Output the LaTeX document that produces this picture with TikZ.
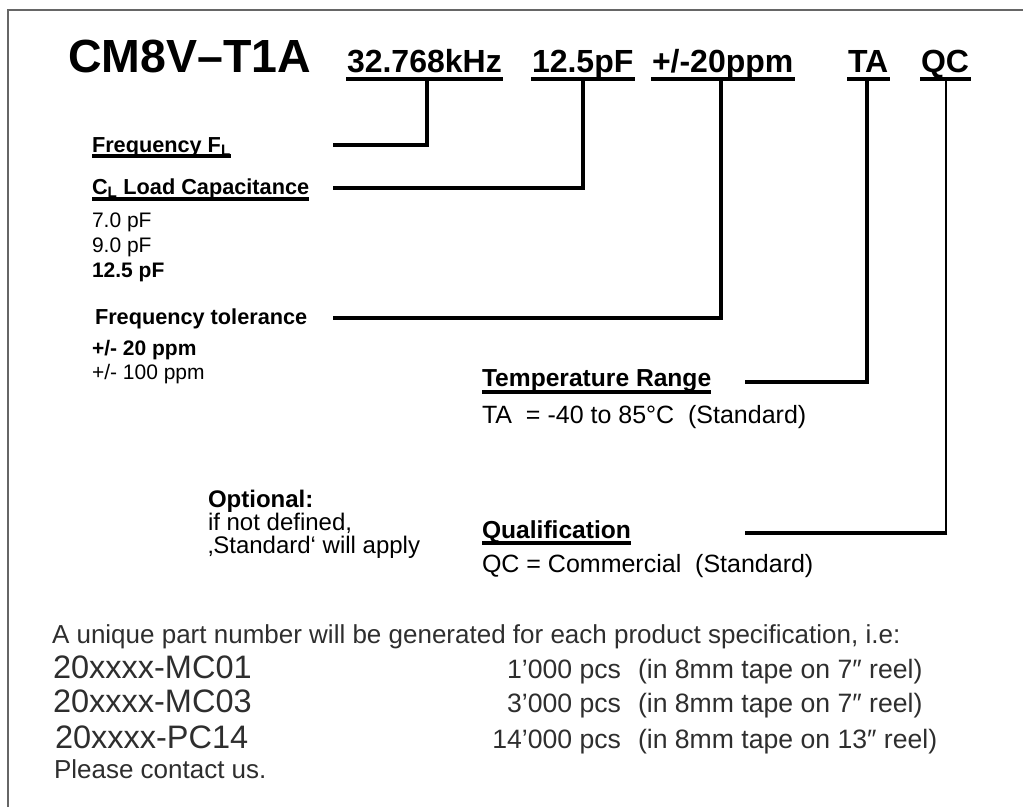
\documentclass[tikz,border=0pt]{standalone}
\usepackage{fontspec}
\setmainfont{Liberation Sans}
\newcommand\setfs[1]{\fontsize{#1}{#1}\selectfont}
\begin{document}
\begin{tikzpicture}[x=1pt,y=-1pt,
  txt/.style={anchor=base west, inner sep=0pt, outer sep=0pt},
  partcode/.style={txt, font=\setfs{32}\bfseries, text depth=7pt},
  headl/.style={txt, font=\setfs{21.7}\bfseries},
  optl/.style={txt, font=\setfs{21}},
  optb/.style={txt, font=\setfs{21}\bfseries},
  headm/.style={txt, font=\setfs{24.6}\bfseries},
  valm/.style={txt, font=\setfs{25}},
  optm/.style={txt, font=\setfs{24}},
  optmb/.style={txt, font=\setfs{24}\bfseries},
  bot/.style={txt, font=\setfs{26}, text=black!82},
  reel/.style={txt, font=\setfs{26.6}, text=black!82},
  pnum/.style={txt, font=\setfs{32.5}, text=black!82},
  qty/.style={reel, anchor=base east},
  uline/.style={line width=3.6pt},
  hline/.style={line width=3.2pt},
  conn/.style={line width=3.8pt},
  frame/.style={line width=1.8pt, draw=black!60}]
\useasboundingbox (0,0) rectangle (1023,807);
% frame (left and top edges only)
\draw[frame] (8,807) -- (8,10) -- (1023,10);

% header part code
\node[txt, font=\setfs{46.5}\bfseries] (title) at (68,72) {CM8V–T1A};
\node[partcode] (khz) at (347,72) {32.768kHz};
\node[partcode] (pf)  at (532,72) {12.5pF};
\node[partcode] (ppm) at (652,72) {+/-20ppm};
\node[partcode] (ta)  at (848,72) {TA};
\node[partcode] (qc)  at (921,72) {QC};
\foreach \n in {khz,pf,ppm,ta,qc}
  \draw[uline] ([xshift=-1pt]\n.south west) -- ([xshift=1.5pt]\n.south east);

% left column
\node[headl, text depth=4pt] (freq) at (92,152) {Frequency F\textsubscript{L}};
\draw[hline] (freq.south west) -- (freq.south east);
\node[headl, text depth=5pt] (cl) at (92,194) {C\textsubscript{L} Load Capacitance};
\draw[hline] (cl.south west) -- (cl.south east);
\node[optl] (c1) at (92,227) {7.0 pF};
\node[optl] (c2) at (92,252) {9.0 pF};
\node[optb] (c3) at (92,277) {12.5 pF};
\node[headl] (tol) at (95,324) {Frequency tolerance};
\node[optb] (t1) at (92,355) {+/- 20 ppm};
\node[optl] (t2) at (92,379) {+/- 100 ppm};

% middle column
\node[headm, text depth=6pt] (temp) at (482,386) {Temperature Range};
\draw[hline] (temp.south west) -- (temp.south east);
\node[valm] (taval) at (482,423) {TA\ \ =\ -40 to 85°C\ \ (Standard)};
\node[optmb] (optn) at (208,507) {Optional:};
\node[optm] (optn2) at (208,530) {if not defined,};
\node[optm] (optn3) at (208,553) {‚Standard‘ will apply};
\node[headm, text depth=5pt] (qual) at (482,538) {Qualification};
\draw[hline] (qual.south west) -- (qual.south east);
\node[valm] (qcval) at (482,572) {QC = Commercial\ \ (Standard)};

% connector ends
\coordinate (freqEnd) at (333,145);
\coordinate (clEnd)   at (333,188);
\coordinate (tolEnd)  at (333,318);
\coordinate (taEnd)   at (745,382);
\coordinate (qcEnd)   at (745,533);

% connectors
\draw[conn] ([xshift=3pt]khz.south) |- (freqEnd);
\draw[conn] (pf.south) |- (clEnd);
\draw[conn] ([xshift=-1.5pt]ppm.south) |- (tolEnd);
\draw[conn] ([xshift=-1pt]ta.south) |- (taEnd);
\draw[line width=2.6pt] ([xshift=1pt]qc.south) -- ([xshift=1pt]qc.south |- qcEnd);
\draw[conn] ([xshift=2.3pt]qc.south |- qcEnd) -- (qcEnd);

% bottom text
\node[bot] (uniq) at (52,643) {A unique part number will be generated for each product specification, i.e:};
\node[pnum] (pn1) at (53,678) {20xxxx-MC01};
\node[pnum] (pn2) at (53,712) {20xxxx-MC03};
\node[pnum] (pn3) at (55,748) {20xxxx-PC14};
\node[qty] (q1) at (621,678) {1’000 pcs};
\node[qty] (q2) at (621,712) {3’000 pcs};
\node[qty] (q3) at (621,748) {14’000 pcs};
\node[reel] (r1) at (638,678) {(in 8mm tape on 7″ reel)};
\node[reel] (r2) at (638,712) {(in 8mm tape on 7″ reel)};
\node[reel] (r3) at (638,748) {(in 8mm tape on 13″ reel)};
\node[bot] (contact) at (54,778) {Please contact us.};
\end{tikzpicture}
\end{document}
